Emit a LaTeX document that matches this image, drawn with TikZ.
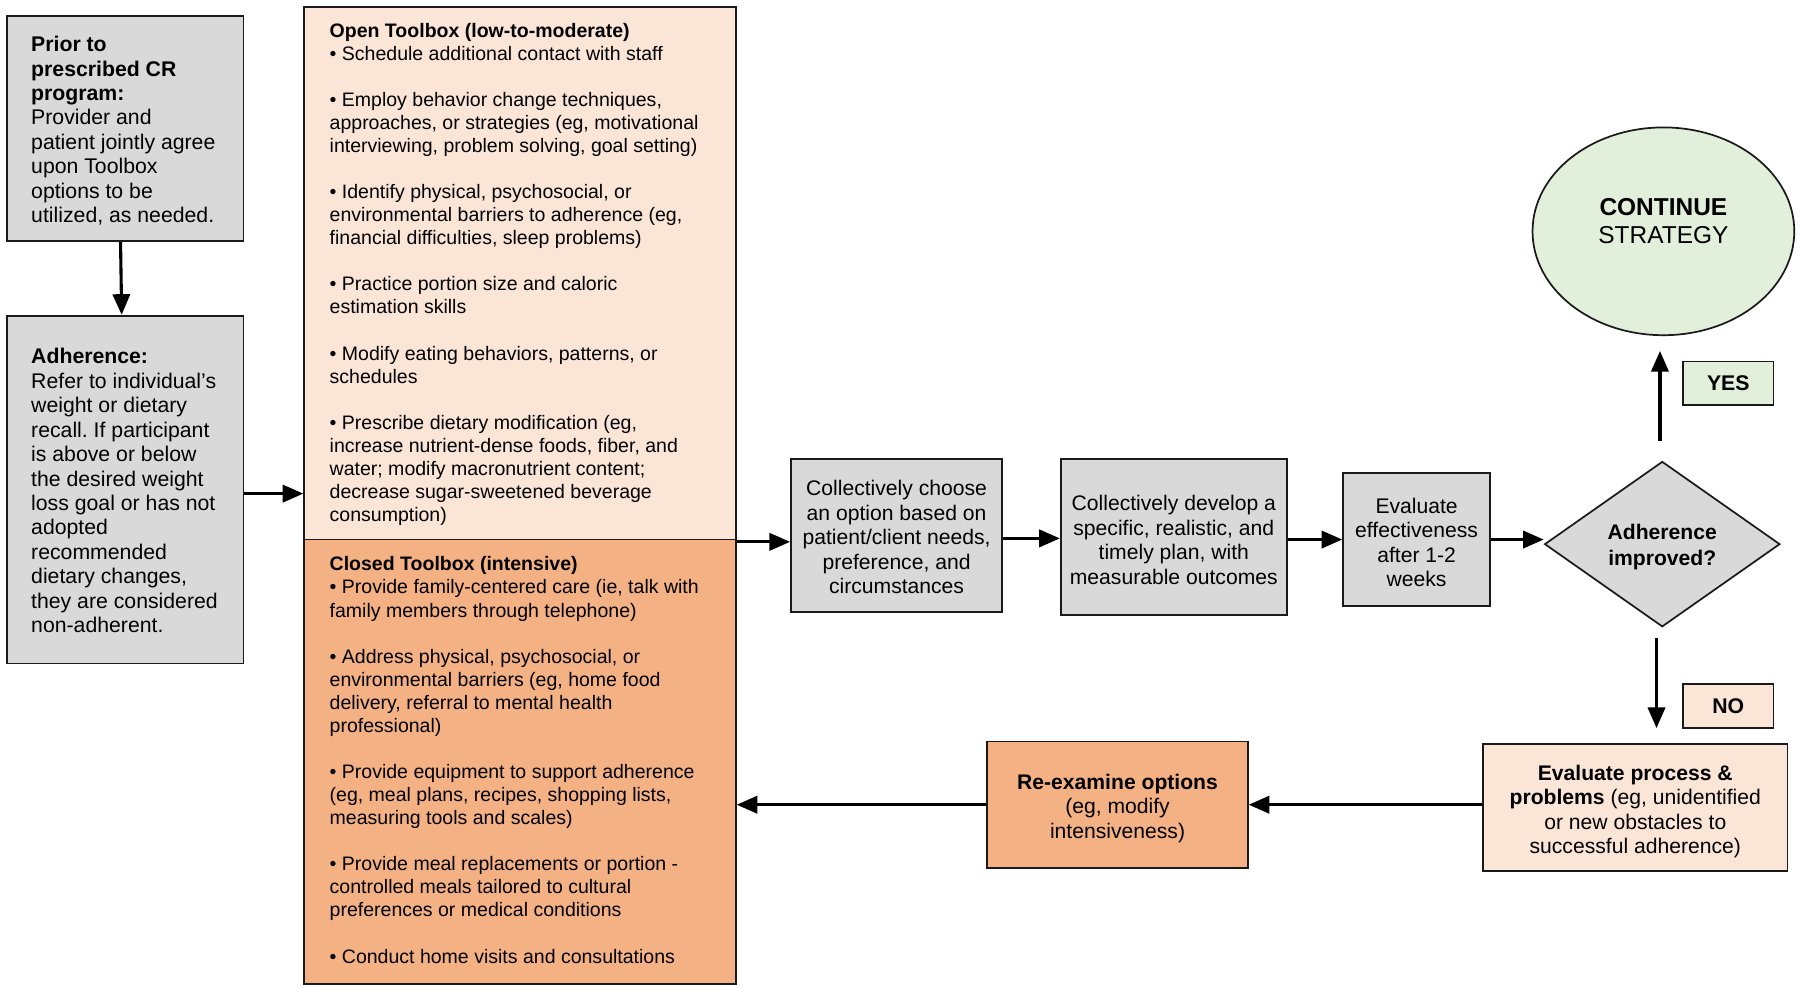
\documentclass[tikz,border=0pt]{standalone}
\usepackage{fontspec}
\setmainfont{Liberation Sans}
\usetikzlibrary{arrows.meta,shapes.geometric}
\definecolor{boxgray}{HTML}{D9D9D9}
\definecolor{peach}{HTML}{FBE5D6}
\definecolor{tbOrange}{HTML}{F4B183}
\definecolor{lgreen}{HTML}{E2EFDA}
\definecolor{edgecol}{HTML}{1A1A1A}
\frenchspacing
\begin{document}
\begin{tikzpicture}[x=1pt,y=-1pt,
  box/.style={draw=edgecol, line width=1.5pt, rectangle, inner sep=0pt},
  arr/.style={draw=black, line width=2.7pt, -{Triangle[length=18pt,width=15pt]}},
  ft/.style={font=\fontsize{18.4}{21.4}\selectfont, align=center, inner sep=0pt},
  lt/.style={font=\fontsize{18.5}{21.3}\selectfont, align=left, inner sep=0pt, anchor=north west},
  tt/.style={font=\fontsize{17}{20.1}\selectfont, align=left, inner sep=0pt, anchor=north west}]
\useasboundingbox (0,0) rectangle (1568,860.6);
\fill[white] (0,0) rectangle (1568,860.6);

% left boxes
\node[box, fill=boxgray, minimum width=206pt, minimum height=196pt] (prior) at (109,112) {};
\node[lt] (priortxt) at (27,29.8) {\strut\textbf{Prior to}\\\textbf{prescribed CR}\\\textbf{program:}\\Provider and\\patient jointly agree\\upon Toolbox\\options to be\\utilized, as needed.};

\node[box, fill=boxgray, minimum width=206pt, minimum height=303pt] (adh) at (109,426.5) {};
\node[lt] (adhtxt) at (27,301.8) {\strut\textbf{Adherence:}\\Refer to individual’s\\weight or dietary\\recall. If participant\\is above or below\\the desired weight\\loss goal or has not\\adopted\\recommended\\dietary changes,\\they are considered\\non-adherent.};

% toolbox
\node[box, fill=peach, minimum width=376pt, minimum height=464pt] (open) at (453,238) {};
\node[box, fill=tbOrange, minimum width=376pt, minimum height=387pt] (closed) at (453,663.5) {};
\node[tt] (opentxt) at (287,18) {\strut\textbf{Open Toolbox (low-to-moderate)}\\
• Schedule additional contact with staff\\[20.1pt]
• Employ behavior change techniques,\\
approaches, or strategies (eg, motivational\\
interviewing, problem solving, goal setting)\\[20.1pt]
• Identify physical, psychosocial, or\\
environmental barriers to adherence (eg,\\
financial difficulties, sleep problems)\\[20.1pt]
• Practice portion size and caloric\\
estimation skills\\[20.1pt]
• Modify eating behaviors, patterns, or\\
schedules\\[20.1pt]
• Prescribe dietary modification (eg,\\
increase nutrient-dense foods, fiber, and\\
water; modify macronutrient content;\\
decrease sugar-sweetened beverage\\
consumption)};
\node[tt] (closedtxt) at (287,483) {\strut\textbf{Closed Toolbox (intensive)}\\
• Provide family-centered care (ie, talk with\\
family members through telephone)\\[20.1pt]
• Address physical, psychosocial, or\\
environmental barriers (eg, home food\\
delivery, referral to mental health\\
professional)\\[20.1pt]
• Provide equipment to support adherence\\
(eg, meal plans, recipes, shopping lists,\\
measuring tools and scales)\\[20.1pt]
• Provide meal replacements or portion -\\
controlled meals tailored to cultural\\
preferences or medical conditions\\[20.1pt]
• Conduct home visits and consultations};

% middle row
\node[box, fill=boxgray, minimum width=184pt, minimum height=133pt] (choose) at (781,466.5) {};
\node[ft] (choosetxt) at (781,468) {Collectively choose\\an option based on\\patient/client needs,\\preference, and\\circumstances};
\node[box, fill=boxgray, minimum width=197pt, minimum height=136pt] (develop) at (1022.5,468) {};
\node[ft] (developtxt) at (1022.5,470.5) {Collectively develop a\\specific, realistic, and\\timely plan, with\\measurable outcomes};
\node[box, fill=boxgray, minimum width=128pt, minimum height=116pt] (eval) at (1234,470) {};
\node[ft] (evaltxt) at (1234,472.5) {Evaluate\\effectiveness\\after 1-2\\weeks};
\node[draw=edgecol, line width=1.5pt, fill=boxgray, shape=diamond, inner sep=0pt, minimum width=205pt, minimum height=144pt] (dia) at (1448,474) {};
\node[font=\fontsize{18.4}{22}\selectfont\bfseries, align=center, inner sep=0pt] (diatxt) at (1448,476.5) {Adherence\\improved?};

% ellipse and labels
\node[draw=edgecol, line width=1.5pt, fill=lgreen, shape=ellipse, inner sep=0pt, minimum width=228pt, minimum height=181pt] (ell) at (1449,201.5) {};
\node[font=\fontsize{21.3}{24}\selectfont, align=center, inner sep=0pt] (elltxt) at (1449,192.5) {\textbf{CONTINUE}\\STRATEGY};
\node[box, fill=lgreen, minimum width=79pt, minimum height=38pt, font=\fontsize{18.5}{21}\selectfont\bfseries] (yes) at (1505.5,334) {YES};
\node[box, fill=peach, minimum width=79pt, minimum height=38pt, font=\fontsize{18.5}{21}\selectfont\bfseries] (no) at (1505.5,615) {NO};

% bottom row
\node[box, fill=peach, minimum width=265pt, minimum height=111pt] (proc) at (1424.5,703.5) {};
\node[ft] (proctxt) at (1424.5,707) {\textbf{Evaluate process \&}\\\textbf{problems} (eg, unidentified\\or new obstacles to\\successful adherence)};
\node[box, fill=tbOrange, minimum width=227pt, minimum height=110pt] (reex) at (973.5,701) {};
\node[ft] (reextxt) at (973.5,704) {\textbf{Re-examine options}\\(eg, modify\\intensiveness)};

% connectors
\coordinate (row) at (0,470);
\draw[arr] ([xshift=-4pt]prior.south) -- ([xshift=-3pt]prior.south |- adh.north);
\draw[arr] ([yshift=-3.5pt]adh.east) -- ([yshift=-3.5pt]adh.east -| open.west);
\draw[arr] (open.east |- 0,472) -- (choose.west |- 0,472);
\draw[arr] (choose.east |- 0,469) -- (develop.west |- 0,469);
\draw[arr] (develop.east |- row) -- (eval.west |- row);
\draw[arr] (eval.east |- row) -- (dia.west |- row);
\draw[arr, shorten <=17pt, shorten >=13pt] ([xshift=-2pt]dia.north) -- ([xshift=-2pt]dia.north |- ell.south);
\draw[arr, shorten <=9pt, shorten >=13pt] ([xshift=-5pt]dia.south) -- ([xshift=-5pt]dia.south |- proc.north);
\draw[arr] (proc.west |- reex.east) -- (reex.east);
\draw[arr] (reex.west) -- (reex.west -| closed.east);
\end{tikzpicture}
\end{document}
